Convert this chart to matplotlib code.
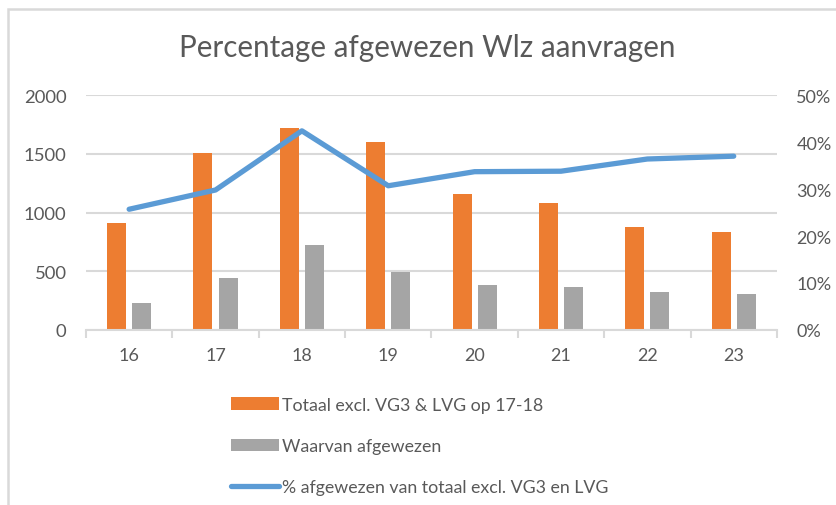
import matplotlib.pyplot as plt
import numpy as np
from matplotlib.patches import Rectangle
from matplotlib.ticker import FuncFormatter

plt.rcParams['font.family'] = ['Lato', 'DejaVu Sans']

# gegevens per jaar
jaren = ['16', '17', '18', '19', '20', '21', '22', '23']
totaal = [915, 1504, 1718, 1604, 1162, 1085, 875, 835]
afgewezen = [230, 442, 720, 493, 385, 365, 319, 308]
percentage = [25.7, 29.8, 42.4, 30.7, 33.7, 33.8, 36.4, 37.0]

oranje = '#ED7D31'
grijs = '#A5A5A5'
blauw = '#5B9BD5'
tekst = '#595959'
lijn = '#D9D9D9'

fig = plt.figure(figsize=(8.37, 5.06), dpi=100)
ax = fig.add_axes([0.1027, 0.346, 0.8255, 0.464])

x = np.arange(len(jaren))
b = 0.22
ax.bar(x - 0.145, totaal, b, color=oranje, label='Totaal excl. VG3 & LVG op 17-18', zorder=2)
ax.bar(x + 0.145, afgewezen, b, color=grijs, label='Waarvan afgewezen', zorder=2)

ax.set_xlim(-0.5, len(jaren) - 0.5)
ax.set_ylim(0, 2000)
ax.set_yticks(range(0, 2001, 500))
ax.yaxis.grid(True, color=lijn, lw=1.5, zorder=0)
ax.set_axisbelow(True)
for s in ['top', 'right', 'left']:
    ax.spines[s].set_visible(False)
ax.spines['bottom'].set_color(lijn)
ax.spines['bottom'].set_linewidth(1.5)
ax.set_xticks(x)
ax.set_xticklabels(jaren)
ax.set_xticks(np.arange(-0.5, len(jaren)), minor=True)
ax.tick_params(axis='x', which='major', length=0, pad=12, labelsize=13, labelcolor=tekst)
ax.tick_params(axis='x', which='minor', length=6, width=1.5, color=lijn)
ax.tick_params(axis='y', length=0, pad=14, labelsize=13.3, labelcolor=tekst)

ax2 = ax.twinx()
ax2.plot(x, percentage, color=blauw, lw=3.8, solid_capstyle='round',
         label='% afgewezen van totaal excl. VG3 en LVG', zorder=3)
ax2.set_ylim(0, 50)
ax2.set_yticks(range(0, 51, 10))
ax2.yaxis.set_major_formatter(FuncFormatter(lambda v, p: f'{v:.0f}%'))
for s in ['top', 'right', 'left', 'bottom']:
    ax2.spines[s].set_visible(False)
ax2.tick_params(axis='y', length=0, pad=14, labelsize=13, labelcolor=tekst)

fig.text(0.511, 0.905, 'Percentage afgewezen Wlz aanvragen', ha='center', va='center',
         fontsize=21.3, color=tekst)

h1, l1 = ax.get_legend_handles_labels()
h2, l2 = ax2.get_legend_handles_labels()
fig.legend(h1 + h2, l1 + l2, loc='upper left', bbox_to_anchor=(0.267, 0.228),
           frameon=False, fontsize=12.8, labelcolor=tekst, handlelength=2.7,
           handletextpad=0.2, labelspacing=1.42, borderaxespad=0)

# kader van de grafiek
fig.patches.append(Rectangle((8 / 837, -0.1), 1.2, 1.1 - 10 / 506, transform=fig.transFigure,
                             fill=False, edgecolor=lijn, lw=1.8))

fig.savefig('out.png', dpi=100)
